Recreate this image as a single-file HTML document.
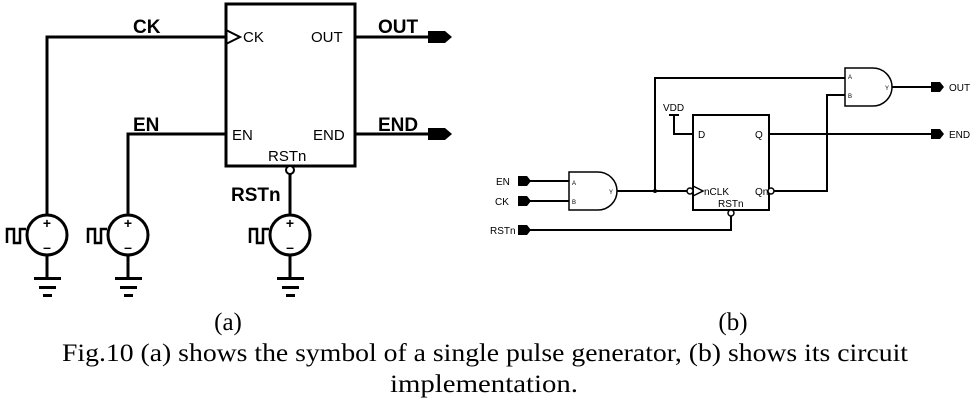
<!DOCTYPE html>
<html><head><style>html,body{margin:0;padding:0;background:#fff}svg{display:block}</style></head>
<body>
<svg width="974" height="411" viewBox="0 0 974 411" xmlns="http://www.w3.org/2000/svg" font-family="Liberation Sans, sans-serif">
<g stroke="#000" stroke-width="3" fill="none">
  <rect x="226" y="4" width="129" height="162"/>
  <polyline points="47,215 47,37 226,37"/>
  <polyline points="128,215 128,134 226,134"/>
  <line x1="290" y1="174" x2="290" y2="215"/>
  <line x1="355" y1="37" x2="428" y2="37"/>
  <line x1="355" y1="134" x2="428" y2="134"/>
  <polyline points="226,30 240,37 226,44" stroke-width="2"/>
  <circle cx="47" cy="235" r="20"/><circle cx="128" cy="235" r="20"/><circle cx="290" cy="235" r="20"/>
  <line x1="47" y1="255" x2="47" y2="278"/><line x1="128" y1="255" x2="128" y2="278"/><line x1="290" y1="255" x2="290" y2="278"/>
  <g stroke-width="2.5">
  <polyline points="7,243 7,229 14,229 14,243 20,243 20,229 26,229"/>
  <polyline points="88,243 88,229 95,229 95,243 101,243 101,229 107,229"/>
  <polyline points="250,243 250,229 257,229 257,243 263,243 263,229 269,229"/>
  </g>
</g>
<circle cx="290" cy="170" r="4" fill="#fff" stroke="#000" stroke-width="2"/>
<g fill="#000">
  <rect x="34" y="277" width="27" height="3"/><rect x="39" y="286" width="17" height="3"/><rect x="43" y="294" width="9" height="3"/>
  <rect x="115" y="277" width="27" height="3"/><rect x="120" y="286" width="17" height="3"/><rect x="124" y="294" width="9" height="3"/>
  <rect x="277" y="277" width="27" height="3"/><rect x="282" y="286" width="17" height="3"/><rect x="286" y="294" width="9" height="3"/>
  <polygon points="428,31 445,31 452,37 445,43 428,43"/>
  <polygon points="428,128 445,128 452,134 445,140 428,140"/>
</g>
<g font-size="16" font-weight="bold" fill="#000">
  <text x="47" y="228" font-size="14" text-anchor="middle">+</text><text x="47" y="252" font-size="14" text-anchor="middle">–</text>
  <text x="128" y="228" font-size="14" text-anchor="middle">+</text><text x="128" y="252" font-size="14" text-anchor="middle">–</text>
  <text x="290" y="228" font-size="14" text-anchor="middle">+</text><text x="290" y="252" font-size="14" text-anchor="middle">–</text>
  <text x="133" y="33" font-size="19">CK</text>
  <text x="133" y="131" font-size="19">EN</text>
  <text x="378" y="33" font-size="19">OUT</text>
  <text x="378" y="131" font-size="19">END</text>
  <text x="231" y="201" font-size="19">RSTn</text>
</g>
<g font-size="15" fill="#000">
  <text x="243" y="42">CK</text>
  <text x="311" y="42">OUT</text>
  <text x="232" y="140">EN</text>
  <text x="313" y="140">END</text>
  <text x="268" y="161">RSTn</text>
</g>
<!-- (b) -->
<g stroke="#000" stroke-width="2" fill="none">
  <path d="M569,172 H598 A19,19 0 0 1 598,210 H569 Z" stroke-width="1.5"/>
  <path d="M845,68 H873 A19,19 0 0 1 873,106 H845 Z" stroke-width="1.5"/>
  <rect x="693" y="115" width="76" height="95"/>
  <line x1="530" y1="181" x2="569" y2="181"/>
  <line x1="530" y1="201" x2="569" y2="201"/>
  <line x1="617" y1="191" x2="688" y2="191"/>
  <polyline points="655,191 655,78 845,78"/>
  <polyline points="773,191 827,191 827,95 845,95"/>
  <line x1="769" y1="134" x2="931" y2="134"/>
  <line x1="892" y1="87" x2="931" y2="87"/>
  <polyline points="674,115 674,134 693,134"/>
  <line x1="669" y1="115" x2="679" y2="115"/>
  <polyline points="530,230 731,230 731,216"/>
  <polyline points="693,186 703,191 693,196" stroke-width="1.5"/>
</g>
<circle cx="655" cy="191" r="2" fill="#000"/>
<g fill="#fff" stroke="#000" stroke-width="1.5">
  <circle cx="690" cy="191" r="3"/><circle cx="771" cy="191" r="3"/><circle cx="731" cy="213" r="3"/>
</g>
<g fill="#000">
  <polygon points="518,176 527,176 531,181 527,186 518,186"/>
  <polygon points="518,196 527,196 531,201 527,206 518,206"/>
  <polygon points="518,225 527,225 531,230 527,235 518,235"/>
  <polygon points="931,82 940,82 944,87 940,92 931,92"/>
  <polygon points="931,129 940,129 944,134 940,139 931,139"/>
</g>
<g font-size="10" fill="#000">
  <text x="496" y="185">EN</text><text x="495" y="205">CK</text><text x="490" y="234">RSTn</text>
  <text x="949" y="91">OUT</text><text x="949" y="138">END</text>
  <text x="663" y="111">VDD</text>
  <text x="698" y="138">D</text><text x="755" y="138">Q</text>
  <text x="704" y="195">nCLK</text><text x="755" y="195">Qn</text>
  <text x="718" y="207">RSTn</text>
  <text x="572" y="185" font-size="6">A</text><text x="572" y="204" font-size="6">B</text><text x="609" y="194" font-size="6">Y</text>
  <text x="848" y="79" font-size="6">A</text><text x="848" y="98" font-size="6">B</text><text x="885" y="90" font-size="6">Y</text>
</g>
<g font-family="Liberation Serif, serif" font-size="25" fill="#000">
  <text x="228" y="330" text-anchor="middle">(a)</text>
  <text x="733" y="330" text-anchor="middle">(b)</text>
  <text x="62" y="361" textLength="846" lengthAdjust="spacingAndGlyphs">Fig.10 (a) shows the symbol of a single pulse generator, (b) shows its circuit</text>
  <text x="390" y="392" textLength="188" lengthAdjust="spacingAndGlyphs">implementation.</text>
</g>
</svg>
</body></html>
